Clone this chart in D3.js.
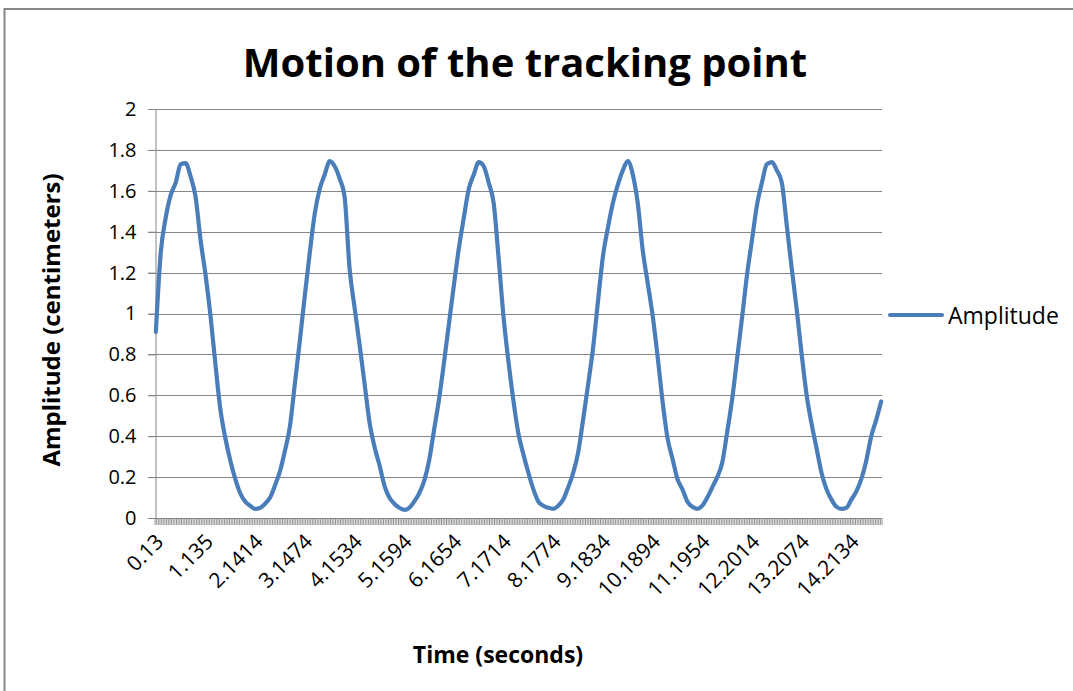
<!DOCTYPE html>
<html>
<head>
<meta charset="utf-8">
<script src="https://d3js.org/d3.v7.min.js"></script>
<style>
  body { margin: 0; background: #fff; }
  svg text { font-family: "Open Sans", "Noto Sans", sans-serif; fill: #000; }
</style>
</head>
<body>
<div id="chart"></div>
<script>
var width = 1073;
var height = 691;

// x categories: one per video frame, a label every 30 frames
var frameCount = 439;
var labelEvery = 30;
var tickLabels = ["0.13", "1.135", "2.1414", "3.1474", "4.1534", "5.1594", "6.1654", "7.1714",
                  "8.1774", "9.1834", "10.1894", "11.1954", "12.2014", "13.2074", "14.2134"];
var yTicks = [0, 0.2, 0.4, 0.6, 0.8, 1, 1.2, 1.4, 1.6, 1.8, 2];

var sampleStep = 3;
var amplitude = [
  0.91, 1.30, 1.47, 1.58, 1.64, 1.73, 1.735, 1.67, 1.57, 1.36,
  1.19, 0.99, 0.75, 0.53, 0.39, 0.28, 0.19, 0.12, 0.08, 0.06,
  0.045, 0.05, 0.07, 0.10, 0.16, 0.23, 0.33, 0.45, 0.66, 0.87,
  1.09, 1.30, 1.49, 1.61, 1.68, 1.745, 1.72, 1.66, 1.57, 1.22,
  1.03, 0.85, 0.66, 0.47, 0.35, 0.26, 0.16, 0.10, 0.07, 0.05,
  0.04, 0.05, 0.08, 0.12, 0.18, 0.28, 0.43, 0.58, 0.76, 0.95,
  1.14, 1.32, 1.47, 1.61, 1.68, 1.74, 1.72, 1.64, 1.54, 1.27,
  0.98, 0.76, 0.57, 0.41, 0.31, 0.22, 0.14, 0.08, 0.06, 0.05,
  0.045, 0.06, 0.09, 0.15, 0.22, 0.32, 0.48, 0.65, 0.83, 1.06,
  1.28, 1.42, 1.54, 1.63, 1.70, 1.745, 1.68, 1.54, 1.31, 1.15,
  0.99, 0.79, 0.57, 0.39, 0.29, 0.19, 0.14, 0.08, 0.055, 0.045,
  0.06, 0.10, 0.15, 0.20, 0.27, 0.42, 0.58, 0.78, 0.98, 1.19,
  1.36, 1.53, 1.64, 1.73, 1.74, 1.70, 1.64, 1.43, 1.22, 1.02,
  0.80, 0.60, 0.46, 0.34, 0.22, 0.14, 0.09, 0.055, 0.045, 0.05,
  0.09, 0.13, 0.19, 0.28, 0.40, 0.48, 0.57
];

var plot = {left: 155, right: 882, top: 109, bottom: 518};
var gridColor = "#868686";
var lineColor = "#4a7ebb";

var svg = d3.select("#chart")
  .append("svg")
  .attr("width", width)
  .attr("height", height);

// chart area border
svg.append("rect")
  .attr("x", 4.5).attr("y", 9)
  .attr("width", width + 10).attr("height", height + 10)
  .attr("fill", "#fff")
  .attr("stroke", gridColor)
  .attr("stroke-width", 2);

var x = d3.scaleBand()
  .domain(d3.range(frameCount))
  .range([plot.left, plot.right]);

var y = d3.scaleLinear()
  .domain([0, 2])
  .range([plot.bottom, plot.top]);

// gridlines
svg.append("g")
  .selectAll("line")
  .data(yTicks)
  .enter().append("line")
  .attr("x1", plot.left - 7)
  .attr("x2", plot.right)
  .attr("y1", function (d) { return Math.round(y(d)) + 0.5; })
  .attr("y2", function (d) { return Math.round(y(d)) + 0.5; })
  .attr("stroke", gridColor)
  .attr("stroke-width", 1);

// y axis
var yAxis = svg.append("g")
  .attr("transform", "translate(" + (plot.left + 0.5) + ",0)")
  .call(d3.axisLeft(y).tickValues(yTicks).tickSize(7).tickPadding(12)
        .tickFormat(function (d) { return String(+d.toFixed(1)); }));
yAxis.select(".domain").attr("stroke", gridColor);
yAxis.selectAll(".tick line").attr("stroke", gridColor);
yAxis.selectAll(".tick text").attr("font-size", 20).attr("fill", "#000");

// x axis: category boundary ticks
svg.append("g")
  .selectAll("line")
  .data(d3.range(frameCount + 1))
  .enter().append("line")
  .attr("x1", function (i) { return i < frameCount ? x(i) : plot.right; })
  .attr("x2", function (i) { return i < frameCount ? x(i) : plot.right; })
  .attr("y1", plot.bottom)
  .attr("y2", plot.bottom + 7)
  .attr("stroke", gridColor)
  .attr("stroke-width", 0.9);

svg.append("line")
  .attr("x1", plot.left).attr("x2", plot.right)
  .attr("y1", plot.bottom + 0.5).attr("y2", plot.bottom + 0.5)
  .attr("stroke", gridColor);

// x labels
var labelFrames = tickLabels.map(function (d, i) { return i * labelEvery; });
var xAxis = svg.append("g")
  .attr("transform", "translate(0," + plot.bottom + ")")
  .call(d3.axisBottom(x).tickValues(labelFrames).tickSize(0)
        .tickFormat(function (i) { return tickLabels[i / labelEvery]; }));
xAxis.select(".domain").remove();
xAxis.selectAll(".tick text")
  .attr("font-size", 21)
  .attr("fill", "#000")
  .attr("text-anchor", "end")
  .attr("dy", null)
  .attr("y", 0)
  .attr("transform", "translate(9,25) rotate(-45)");

// series
var line = d3.line()
  .x(function (d, k) { return x(k * sampleStep) + x.bandwidth() / 2; })
  .y(function (d) { return y(d); })
  .curve(d3.curveMonotoneX);

svg.append("path")
  .datum(amplitude)
  .attr("d", line)
  .attr("fill", "none")
  .attr("stroke", lineColor)
  .attr("stroke-width", 4.2)
  .attr("stroke-linejoin", "round")
  .attr("stroke-linecap", "round");

// title
svg.append("text")
  .attr("x", 525).attr("y", 77)
  .attr("text-anchor", "middle")
  .attr("font-size", 40)
  .attr("font-weight", "bold")
  .text("Motion of the tracking point");

// axis titles
svg.append("text")
  .attr("transform", "translate(60,320) rotate(-90)")
  .attr("text-anchor", "middle")
  .attr("font-size", 24)
  .attr("font-weight", "bold")
  .text("Amplitude (centimeters)");

svg.append("text")
  .attr("x", 498).attr("y", 663)
  .attr("text-anchor", "middle")
  .attr("font-size", 23)
  .attr("font-weight", "bold")
  .text("Time (seconds)");

// legend
svg.append("line")
  .attr("x1", 890).attr("x2", 942)
  .attr("y1", 315).attr("y2", 315)
  .attr("stroke", lineColor)
  .attr("stroke-width", 4.2)
  .attr("stroke-linecap", "round");

svg.append("text")
  .attr("x", 948).attr("y", 324)
  .attr("font-size", 23)
  .attr("fill", "#222")
  .text("Amplitude");
</script>
</body>
</html>
